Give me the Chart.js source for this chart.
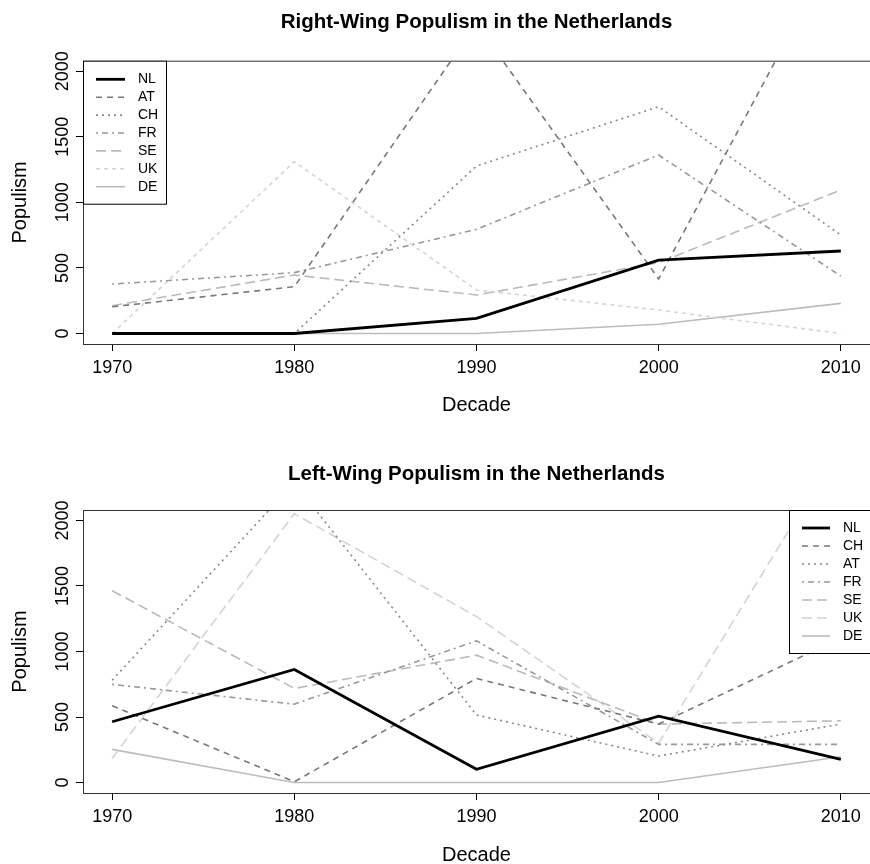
<!DOCTYPE html>
<html>
<head>
<meta charset="utf-8">
<script src="https://cdn.jsdelivr.net/npm/chart.js@4.4.0/dist/chart.umd.min.js"></script>
<style>
  html, body { margin: 0; padding: 0; background: #fff; }
  canvas { display: block; }
</style>
</head>
<body>
<canvas id="grafDireita" width="870" height="432"></canvas>
<canvas id="grafEsquerda" width="870" height="432"></canvas>
<script>
const decadas = [1970, 1980, 1990, 2000, 2010];
const ticksY = [0, 500, 1000, 1500, 2000];

// populismo de direita
const direitaPaises = ["NL", "AT", "CH", "FR", "SE", "UK", "DE"];
const direitaNL = [0, 0, 116, 560, 629];
const direitaAT = [204, 357, 2360, 416, 3010];
const direitaCH = [0, 0, 1277, 1729, 751];
const direitaFR = [377, 464, 794, 1361, 438];
const direitaSE = [212, 446, 294, 540, 1094];
const direitaUK = [0, 1310, 332, 179, 0];
const direitaDE = [0, 0, 0, 70, 230];

// populismo de esquerda
const esquerdaPaises = ["NL", "CH", "AT", "FR", "SE", "UK", "DE"];
const esquerdaNL = [464, 863, 101, 507, 177];
const esquerdaCH = [586, 6, 794, 446, 1102];
const esquerdaAT = [781, 2288, 515, 202, 446];
const esquerdaFR = [749, 598, 1081, 291, 291];
const esquerdaSE = [1464, 718, 972, 446, 471];
const esquerdaUK = [184, 2052, 1266, 301, 2573];
const esquerdaDE = [253, 0, 0, 0, 197];

Chart.defaults.font.family = "'Liberation Sans', Arial, Helvetica, sans-serif";
Chart.defaults.color = "#000";

// estilos na ordem da legenda
const cores = ["#000000", "#787878", "#888888", "#989898", "#bababa", "#d4d4d4", "#bcbcbc"];
const larguras = [2.8, 1.6, 1.6, 1.6, 1.6, 1.6, 1.6];
const tracosDireita = [[], [6, 5], [2, 4], [2, 4, 6, 4], [10, 5], [4, 4], []];
const tracosEsquerda = [[], [6, 5], [2, 4], [2, 4, 6, 4], [10, 5], [10, 5], []];

function montarSerie(nome, valores, i, tracos) {
  return {
    label: nome,
    data: decadas.map((d, k) => ({ x: d, y: valores[k] })),
    borderColor: cores[i],
    borderWidth: larguras[i],
    borderDash: tracos[i],
    pointRadius: 0,
    tension: 0,
    fill: false,
    clip: 0,
  };
}

// moldura do grafico + legenda no estilo R
const molduraLegenda = {
  id: "molduraLegenda",
  afterDatasetsDraw(chart, args, opts) {
    const { ctx, chartArea } = chart;
    ctx.save();
    ctx.setLineDash([]);
    ctx.strokeStyle = "#333";
    ctx.lineWidth = 1;
    ctx.strokeRect(chartArea.left + 0.5, chartArea.top + 0.5,
      chartArea.right - chartArea.left, chartArea.bottom - chartArea.top);

    const bx = opts.esquerda == null ? chartArea.left : opts.esquerda;
    const by = chartArea.top;
    ctx.fillStyle = "#fff";
    ctx.fillRect(bx, by, opts.largura, opts.altura);
    ctx.strokeStyle = "#000";
    ctx.strokeRect(bx + 0.5, by + 0.5, opts.largura, opts.altura);

    ctx.font = "14px 'Liberation Sans', Arial, sans-serif";
    ctx.textBaseline = "middle";
    chart.data.datasets.forEach((ds, i) => {
      const y = by + opts.primeira + i * opts.passo;
      ctx.beginPath();
      ctx.strokeStyle = ds.borderColor;
      ctx.lineWidth = ds.borderWidth;
      ctx.setLineDash(ds.borderDash);
      ctx.moveTo(bx + opts.linhaX, y);
      ctx.lineTo(bx + opts.linhaX + opts.linhaLen, y);
      ctx.stroke();
      ctx.setLineDash([]);
      ctx.fillStyle = "#000";
      ctx.fillText(ds.label, bx + opts.textoX, y);
    });
    ctx.restore();
  },
};

function criarGrafico(id, titulo, series, cfg) {
  return new Chart(document.getElementById(id), {
    type: "line",
    data: { datasets: series },
    plugins: [molduraLegenda],
    options: {
      responsive: false,
      animation: false,
      devicePixelRatio: 1,
      layout: { padding: { left: 0, right: -2, top: 0, bottom: 0 } },
      plugins: {
        legend: { display: false },
        tooltip: { enabled: false },
        title: {
          display: true,
          text: titulo,
          fullSize: false,
          font: { size: 20.5, weight: "bold" },
          padding: { top: cfg.tituloTopo, bottom: cfg.tituloBaixo },
        },
        molduraLegenda: cfg.legenda,
      },
      scales: {
        x: {
          type: "linear",
          min: 1968.4,
          max: 2011.6,
          afterBuildTicks: (s) => { s.ticks = decadas.map((v) => ({ value: v })); },
          afterFit: (s) => { s.height = cfg.alturaX; },
          grid: { drawOnChartArea: false, tickLength: 7, color: "#000" },
          border: { display: false },
          ticks: { font: { size: 18 }, padding: 6, maxRotation: 0, callback: (v) => String(v) },
          title: { display: true, text: "Decade", font: { size: 20, lineHeight: 1 }, padding: { top: 0, bottom: cfg.decadaBaixo } },
        },
        y: {
          type: "linear",
          min: -80,
          max: 2080,
          afterBuildTicks: (s) => { s.ticks = ticksY.map((v) => ({ value: v })); },
          afterFit: (s) => { s.width = 83; },
          grid: { drawOnChartArea: false, tickLength: 7, color: "#000" },
          border: { display: false },
          ticks: { font: { size: 18 }, minRotation: 90, maxRotation: 90, crossAlign: "center", padding: -7, callback: (v) => String(v) },
          title: { display: true, text: "Populism", font: { size: 20, lineHeight: 1 }, padding: { top: 10, bottom: 0 } },
        },
      },
    },
  });
}

const seriesDireita = [direitaNL, direitaAT, direitaCH, direitaFR, direitaSE, direitaUK, direitaDE]
  .map((v, i) => montarSerie(direitaPaises[i], v, i, tracosDireita));
const seriesEsquerda = [esquerdaNL, esquerdaCH, esquerdaAT, esquerdaFR, esquerdaSE, esquerdaUK, esquerdaDE]
  .map((v, i) => montarSerie(esquerdaPaises[i], v, i, tracosEsquerda));

criarGrafico("grafDireita", "Right-Wing Populism in the Netherlands", seriesDireita, {
  tituloTopo: 9.7, tituloBaixo: 26.4, alturaX: 88, decadaBaixo: 17,
  legenda: { esquerda: null, largura: 83, altura: 143, primeira: 18.6, passo: 17.9, linhaX: 13, linhaLen: 29, textoX: 55 },
});

criarGrafico("grafEsquerda", "Left-Wing Populism in the Netherlands", seriesEsquerda, {
  tituloTopo: 29.7, tituloBaixo: 23.7, alturaX: 71, decadaBaixo: -1,
  legenda: { esquerda: 789, largura: 90, altura: 143, primeira: 18, passo: 18, linhaX: 13, linhaLen: 28, textoX: 54 },
});
</script>
</body>
</html>
